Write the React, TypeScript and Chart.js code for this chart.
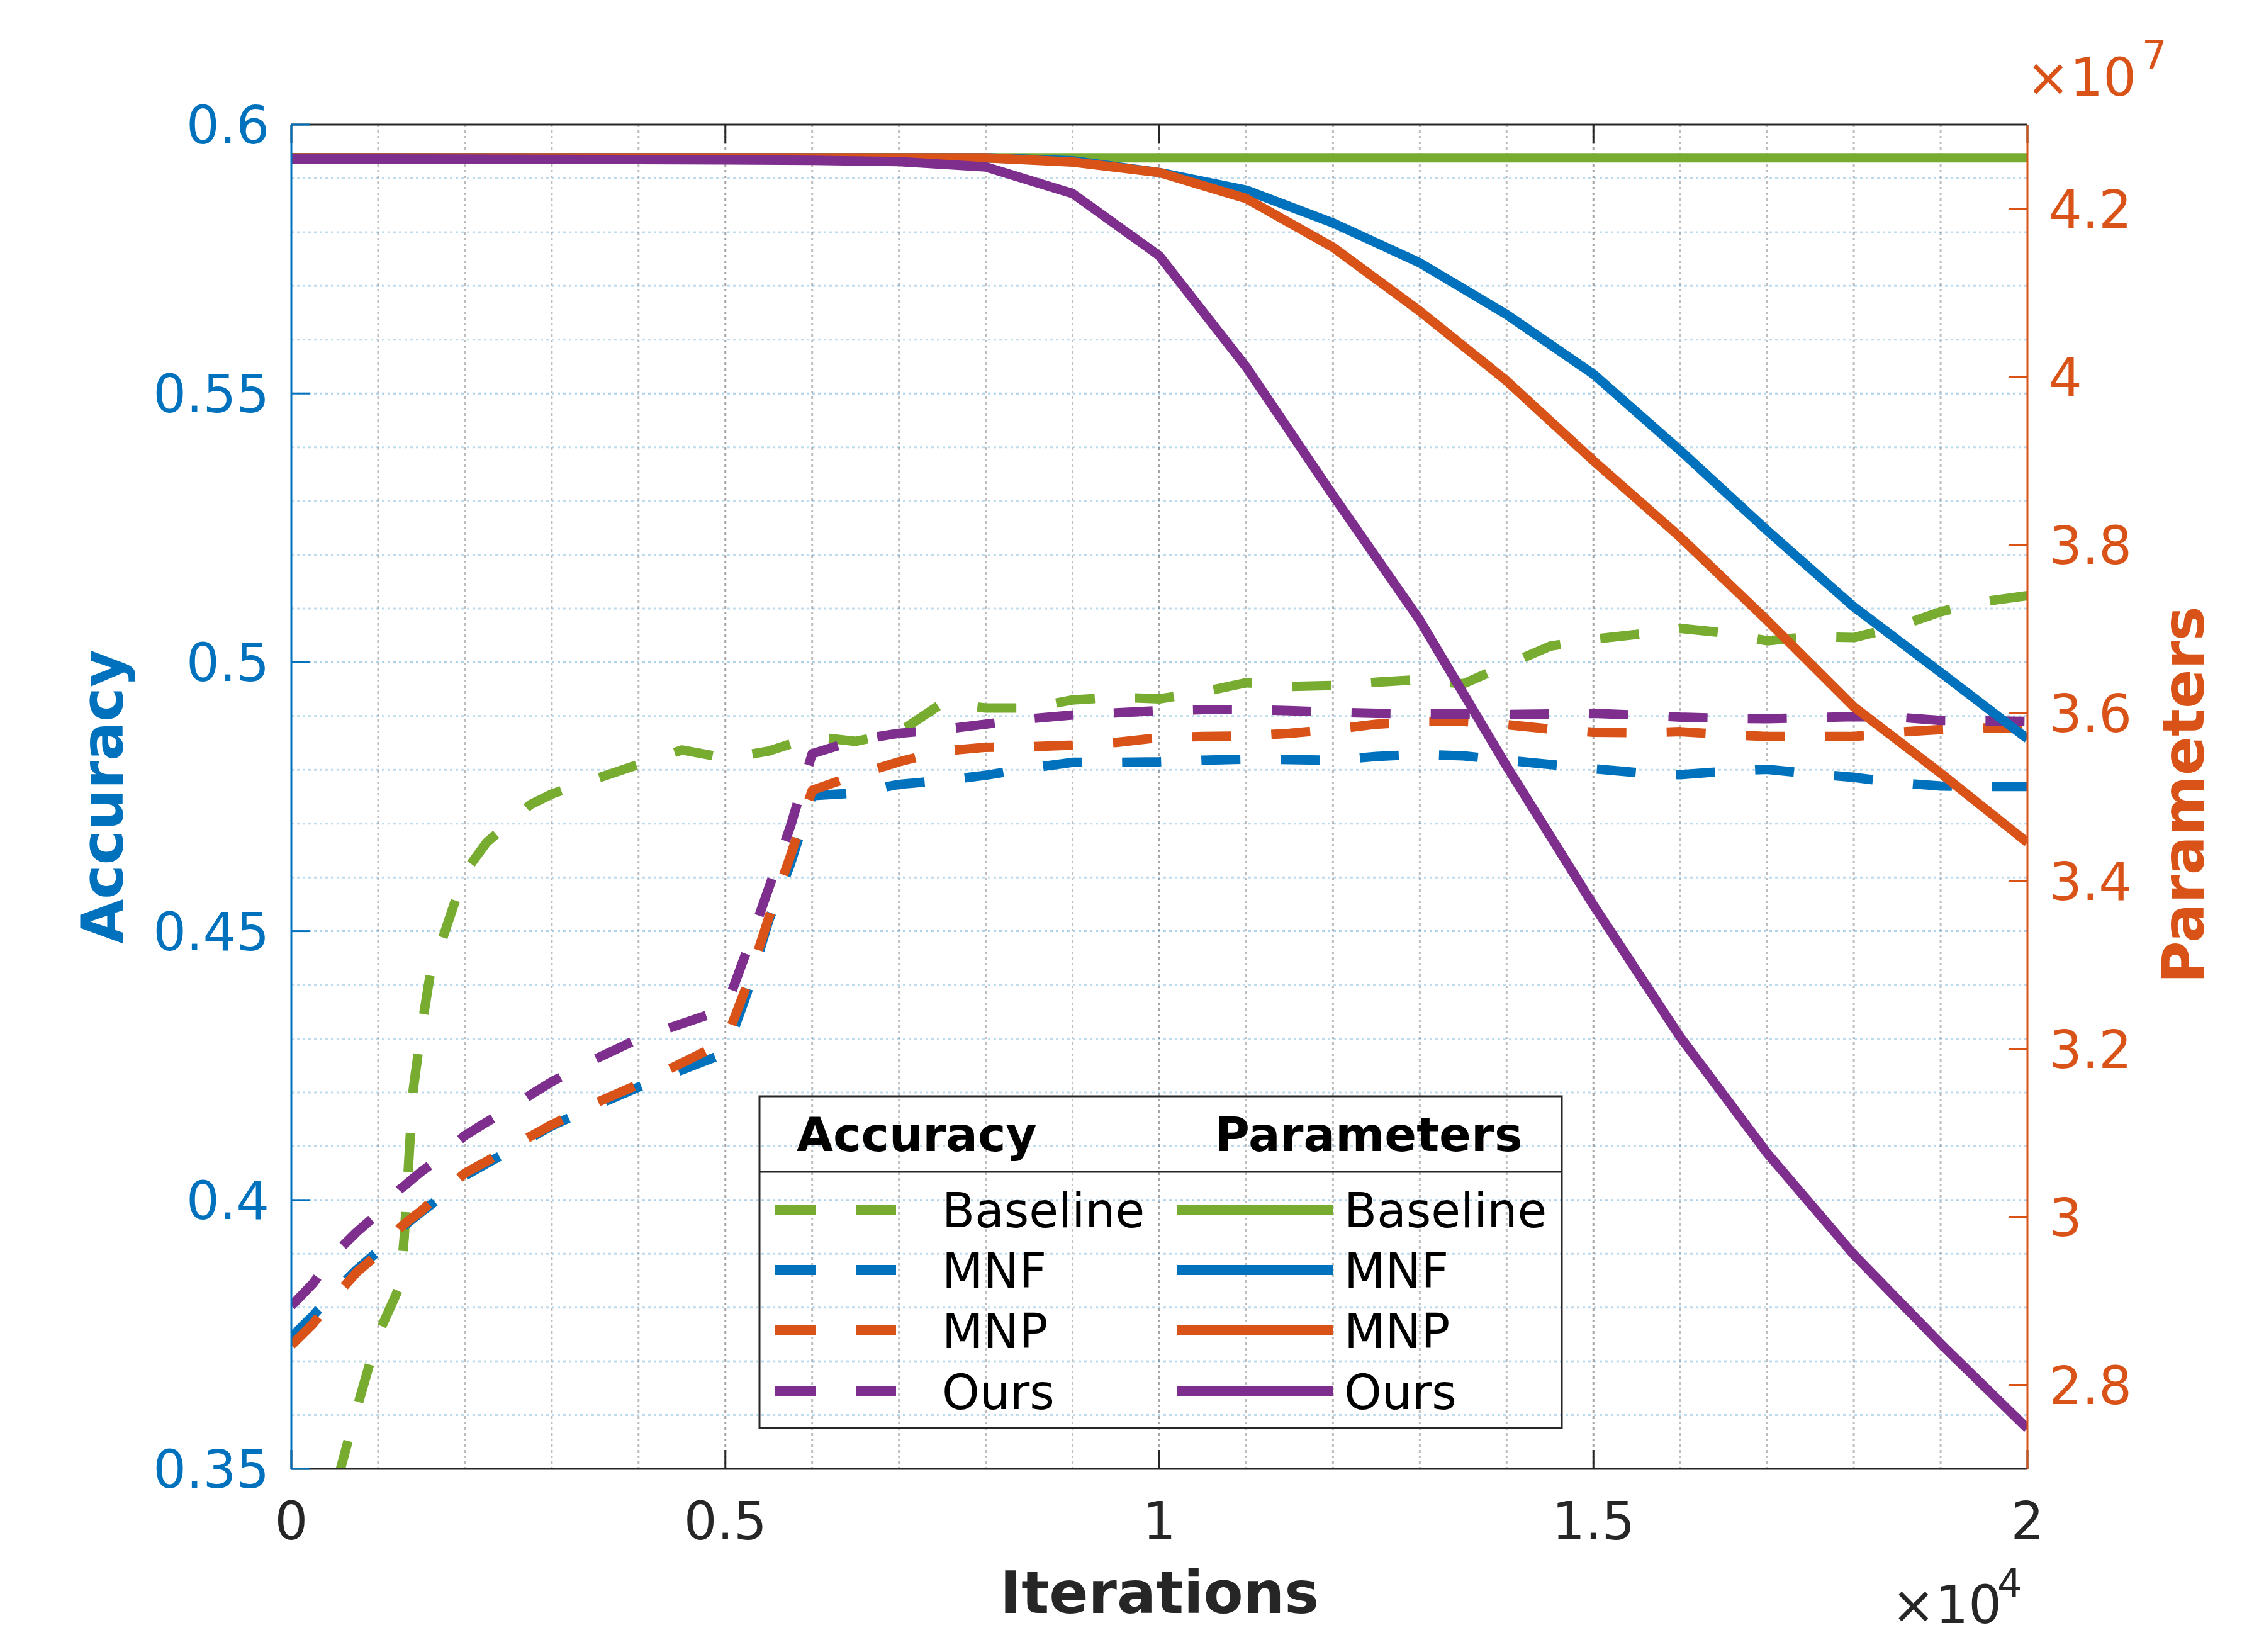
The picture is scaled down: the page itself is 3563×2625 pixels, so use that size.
import React, { useEffect, useRef } from "react";
import Chart from "chart.js/auto";

const SERIES = ["Baseline", "MNF", "MNP", "Ours"];
const COLORS = ["#77AC30", "#0072BD", "#D95319", "#7E2F8E"];
const DARK = "#262626";
const ACC_COLOR = "#0072BD";
const PAR_COLOR = "#D95319";

// accuracy curves (dashed, left axis)
const ACC_ITERS = [
  0, 250, 500, 750, 1000, 1250, 1300, 1400, 1500, 1600, 1750, 2000, 2250, 2500,
  2750, 3000, 3500, 4000, 4500, 5000, 5250, 5500, 5750, 6000, 6500, 7000, 7500,
  8000, 8500, 9000, 9500, 10000, 10500, 11000, 11500, 12000, 12500, 13000, 13500,
  14000, 14500, 15000, 15500, 16000, 16500, 17000, 17500, 18000, 18500, 19000,
  19500, 20000,
];
const ACC_BASELINE = [
  0.32, 0.333, 0.346, 0.361, 0.375, 0.384, 0.393, 0.42, 0.432, 0.442, 0.449, 0.461,
  0.4665, 0.47, 0.4735, 0.4755, 0.4783, 0.481, 0.4837, 0.4822, 0.4828, 0.4835,
  0.4848, 0.4862, 0.4853, 0.487, 0.4924, 0.4915, 0.4915, 0.493, 0.4935, 0.4932,
  0.4945, 0.4962, 0.4955, 0.4957, 0.4963, 0.4968, 0.496, 0.4995, 0.503, 0.5043,
  0.5052, 0.5063, 0.5055, 0.504, 0.5048, 0.5046, 0.5066, 0.5094, 0.5113, 0.5124,
];
const ACC_MNF = [
  0.3745, 0.3785, 0.383, 0.387, 0.3905, 0.3945, 0.3952, 0.3965, 0.3978, 0.399,
  0.401, 0.4045, 0.4068, 0.409, 0.4115, 0.4138, 0.4175, 0.421, 0.4242, 0.4273,
  0.4385, 0.452, 0.4625, 0.4752, 0.4757, 0.4773, 0.478, 0.479, 0.4803, 0.4814,
  0.4814, 0.4815, 0.4818, 0.482, 0.4819, 0.4818, 0.4825, 0.4829, 0.4826, 0.4818,
  0.481, 0.4802, 0.4795, 0.4791, 0.4797, 0.4801, 0.4793, 0.4786, 0.4776, 0.477,
  0.4769, 0.4769,
];
const ACC_MNP = [
  0.373, 0.377, 0.382, 0.3865, 0.39, 0.3948, 0.3955, 0.3968, 0.398, 0.3995, 0.4015,
  0.405, 0.4072, 0.4095, 0.4118, 0.414, 0.418, 0.4215, 0.4255, 0.4295, 0.44,
  0.4525, 0.464, 0.4762, 0.479, 0.4815, 0.4835, 0.4842, 0.4843, 0.4846, 0.4851,
  0.486, 0.4862, 0.4863, 0.4868, 0.4875, 0.4885, 0.489, 0.489, 0.4884, 0.4876,
  0.487, 0.4869, 0.4871, 0.4866, 0.4862, 0.4862, 0.4862, 0.487, 0.4875, 0.4878,
  0.4877,
];
const ACC_OURS = [
  0.3803, 0.3845, 0.39, 0.394, 0.3975, 0.402, 0.4026, 0.404, 0.4053, 0.4065,
  0.4085, 0.412, 0.4145, 0.4168, 0.4195, 0.422, 0.4262, 0.43, 0.4328, 0.4355,
  0.4465, 0.458, 0.4695, 0.483, 0.4855, 0.4868, 0.4875, 0.4885, 0.4895, 0.4902,
  0.4906, 0.491, 0.4912, 0.4912, 0.491, 0.4907, 0.4905, 0.4904, 0.4904, 0.4903,
  0.4904, 0.4905, 0.4902, 0.4898, 0.4896, 0.4895, 0.4897, 0.4899, 0.4898, 0.4892,
  0.4891, 0.489,
];

// parameter counts (solid, right axis, x 10^7)
const PARAM_ITERS = [
  0, 1000, 2000, 3000, 4000, 5000, 6000, 7000, 8000, 9000, 10000, 11000, 12000,
  13000, 14000, 15000, 16000, 17000, 18000, 19000, 20000,
];
const PARAM_BASELINE = [
  4.2604, 4.2604, 4.2604, 4.2604, 4.2604, 4.2604, 4.2604, 4.2604, 4.2604, 4.2604,
  4.2604, 4.2604, 4.2604, 4.2604, 4.2604, 4.2604, 4.2604, 4.2604, 4.2604, 4.2604,
  4.2604,
];
const PARAM_MNF = [
  4.2604, 4.2604, 4.2604, 4.2604, 4.2604, 4.2604, 4.2604, 4.2604, 4.2604, 4.257,
  4.243, 4.222, 4.183, 4.1355, 4.074, 4.003, 3.912, 3.817, 3.726, 3.648, 3.569,
];
const PARAM_MNP = [
  4.2604, 4.2604, 4.2604, 4.2604, 4.2604, 4.2604, 4.2604, 4.2604, 4.2604, 4.2554,
  4.243, 4.212, 4.154, 4.078, 3.995, 3.9, 3.809, 3.71, 3.607, 3.528, 3.4455,
];
const PARAM_OURS = [
  4.2592, 4.2591, 4.2589, 4.2587, 4.2584, 4.258, 4.2574, 4.256, 4.2496, 4.218,
  4.1438, 4.0116, 3.8587, 3.71, 3.5364, 3.371, 3.214, 3.076, 2.955, 2.849, 2.748,
];

const X_TICKS = [0, 5000, 10000, 15000, 20000];
const X_TICK_LABELS = ["0", "0.5", "1", "1.5", "2"];
const ACC_TICKS = [0.35, 0.4, 0.45, 0.5, 0.55, 0.6];
const ACC_TICK_LABELS = ["0.35", "0.4", "0.45", "0.5", "0.55", "0.6"];
const PARAM_TICKS = [2.8, 3, 3.2, 3.4, 3.6, 3.8, 4, 4.2];
const PARAM_TICK_LABELS = ["2.8", "3", "3.2", "3.4", "3.6", "3.8", "4", "4.2"];

const W = 3563;
const H = 2625;
const DASH = [62, 64];
const FONT = '"DejaVu Sans", sans-serif';

const toPoints = (xs: number[], ys: number[]) => xs.map((x, i) => ({ x, y: ys[i] }));

function line(ctx: CanvasRenderingContext2D, x1: number, y1: number, x2: number, y2: number) {
  ctx.beginPath();
  ctx.moveTo(x1, y1);
  ctx.lineTo(x2, y2);
  ctx.stroke();
}

const matlabAxes = {
  id: "matlabAxes",
  beforeDatasetsDraw(chart: any) {
    const { ctx, chartArea: a, scales } = chart;
    const x = scales.x;
    const yA = scales.yAcc;
    ctx.save();
    ctx.lineWidth = 3;
    ctx.setLineDash([4, 5]);
    // minor + major grid
    for (let v = 1000; v < 20000; v += 1000) {
      const px = x.getPixelForValue(v);
      ctx.strokeStyle = v % 5000 === 0 ? "rgba(38,38,38,0.42)" : "rgba(38,38,38,0.3)";
      line(ctx, px, a.top, px, a.bottom);
    }
    for (let i = 1; i < 25; i++) {
      const py = yA.getPixelForValue(0.35 + i * 0.01);
      ctx.strokeStyle = i % 5 === 0 ? "rgba(0,114,189,0.32)" : "rgba(0,114,189,0.25)";
      line(ctx, a.left, py, a.right, py);
    }
    ctx.restore();
  },
  afterDatasetsDraw(chart: any) {
    const { ctx, chartArea: a, scales } = chart;
    const x = scales.x;
    const yA = scales.yAcc;
    const yP = scales.yPar;
    ctx.save();
    ctx.setLineDash([]);
    ctx.lineWidth = 3;
    ctx.lineCap = "butt";

    // box
    ctx.strokeStyle = DARK;
    line(ctx, a.left, a.top, a.right, a.top);
    line(ctx, a.left, a.bottom, a.right, a.bottom);
    X_TICKS.forEach((v) => {
      const px = x.getPixelForValue(v);
      line(ctx, px, a.bottom, px, a.bottom - 30);
      line(ctx, px, a.top, px, a.top + 30);
    });
    ctx.strokeStyle = ACC_COLOR;
    line(ctx, a.left, a.top, a.left, a.bottom);
    ACC_TICKS.forEach((v) => {
      const py = yA.getPixelForValue(v);
      line(ctx, a.left, py, a.left + 30, py);
    });
    ctx.strokeStyle = PAR_COLOR;
    line(ctx, a.right, a.top, a.right, a.bottom);
    PARAM_TICKS.forEach((v) => {
      const py = yP.getPixelForValue(v);
      line(ctx, a.right, py, a.right - 30, py);
    });

    // tick labels
    ctx.font = `83px ${FONT}`;
    ctx.textBaseline = "alphabetic";
    ctx.fillStyle = DARK;
    ctx.textAlign = "center";
    X_TICKS.forEach((v, i) => ctx.fillText(X_TICK_LABELS[i], x.getPixelForValue(v), a.bottom + 112));
    ctx.fillStyle = ACC_COLOR;
    ctx.textAlign = "right";
    ACC_TICKS.forEach((v, i) => ctx.fillText(ACC_TICK_LABELS[i], a.left - 35, yA.getPixelForValue(v) + 30));
    ctx.fillStyle = PAR_COLOR;
    ctx.textAlign = "left";
    PARAM_TICKS.forEach((v, i) => ctx.fillText(PARAM_TICK_LABELS[i], a.right + 34, yP.getPixelForValue(v) + 30));

    // exponents
    ctx.fillStyle = PAR_COLOR;
    ctx.fillText("\u00d710", 3220, a.top - 46);
    ctx.font = `62px ${FONT}`;
    ctx.fillText("7", 3404, a.top - 89);
    ctx.fillStyle = DARK;
    ctx.font = `83px ${FONT}`;
    ctx.fillText("\u00d710", 3006, a.bottom + 245);
    ctx.font = `62px ${FONT}`;
    ctx.fillText("4", 3174, a.bottom + 204);

    // axis titles
    ctx.font = `bold 92px ${FONT}`;
    ctx.textAlign = "center";
    ctx.fillStyle = DARK;
    ctx.fillText("Iterations", (a.left + a.right) / 2, a.bottom + 229);
    const midY = (a.top + a.bottom) / 2;
    ctx.save();
    ctx.translate(195, midY);
    ctx.rotate(-Math.PI / 2);
    ctx.fillStyle = ACC_COLOR;
    ctx.fillText("Accuracy", 0, 0);
    ctx.restore();
    ctx.save();
    ctx.translate(3502, midY - 3);
    ctx.rotate(-Math.PI / 2);
    ctx.fillStyle = PAR_COLOR;
    ctx.fillText("Parameters", 0, 0);
    ctx.restore();

    // legend
    const L = 1207, R = 2482, T = 1742, B = 2269;
    ctx.strokeStyle = DARK;
    ctx.lineWidth = 3;
    ctx.strokeRect(L, T, R - L, B - T);
    line(ctx, L, 1862, R, 1862);
    ctx.fillStyle = "#000";
    ctx.textAlign = "left";
    ctx.font = `bold 75px ${FONT}`;
    ctx.fillText("Accuracy", 1266, 1829);
    ctx.fillText("Parameters", 1931, 1829);
    ctx.font = `76px ${FONT}`;
    const rows = [1922, 2018, 2114, 2211];
    SERIES.forEach((name, i) => {
      const cy = rows[i];
      ctx.strokeStyle = COLORS[i];
      ctx.lineWidth = 16;
      ctx.setLineDash([65, 64]);
      line(ctx, 1231, cy, 1424, cy);
      ctx.setLineDash([]);
      line(ctx, 1870, cy, 2119, cy);
      ctx.fillStyle = "#000";
      ctx.fillText(name, 1497, cy + 28);
      ctx.fillText(name, 2136, cy + 28);
    });
    ctx.restore();
  },
};

export default function App() {
  const canvasRef = useRef<HTMLCanvasElement | null>(null);

  useEffect(() => {
    if (!canvasRef.current) return;
    const accSeries = [ACC_BASELINE, ACC_MNF, ACC_MNP, ACC_OURS];
    const parSeries = [PARAM_BASELINE, PARAM_MNF, PARAM_MNP, PARAM_OURS];
    const common = {
      borderWidth: 15,
      pointRadius: 0,
      tension: 0,
      fill: false,
      clip: 0,
      borderCapStyle: "butt",
      borderJoinStyle: "round",
    };
    const chart = new Chart(canvasRef.current, {
      type: "line",
      data: {
        datasets: [
          ...accSeries.map((ys, i) => ({
            ...common,
            label: `${SERIES[i]} accuracy`,
            data: toPoints(ACC_ITERS, ys),
            yAxisID: "yAcc",
            borderColor: COLORS[i],
            borderDash: DASH,
            order: 8 - i,
          })),
          ...parSeries.map((ys, i) => ({
            ...common,
            label: `${SERIES[i]} parameters`,
            data: toPoints(PARAM_ITERS, ys),
            yAxisID: "yPar",
            borderColor: COLORS[i],
            order: 4 - i,
          })),
        ],
      } as any,
      options: {
        animation: false,
        responsive: false,
        maintainAspectRatio: false,
        layout: { padding: { top: 198, left: 0, right: 0, bottom: 0 } },
        plugins: { legend: { display: false }, tooltip: { enabled: false } },
        scales: {
          x: {
            type: "linear",
            position: "bottom",
            min: 0,
            max: 20000,
            grid: { display: false },
            border: { display: false },
            ticks: { display: false },
            afterFit: (s: any) => { s.height = 291; },
          },
          yAcc: {
            type: "linear",
            position: "left",
            min: 0.35,
            max: 0.6,
            grid: { display: false },
            border: { display: false },
            ticks: { display: false },
            afterFit: (s: any) => { s.width = 463; },
          },
          yPar: {
            type: "linear",
            position: "right",
            min: 2.7,
            max: 4.3,
            grid: { display: false },
            border: { display: false },
            ticks: { display: false },
            afterFit: (s: any) => { s.width = 341; },
          },
        },
      } as any,
      plugins: [matlabAxes],
    });
    return () => chart.destroy();
  }, []);

  return (
    <div style={{ position: "fixed", left: 0, top: 0, width: W, height: H, background: "#fff" }}>
      <canvas ref={canvasRef} width={W} height={H} style={{ display: "block", width: W, height: H }} />
    </div>
  );
}
